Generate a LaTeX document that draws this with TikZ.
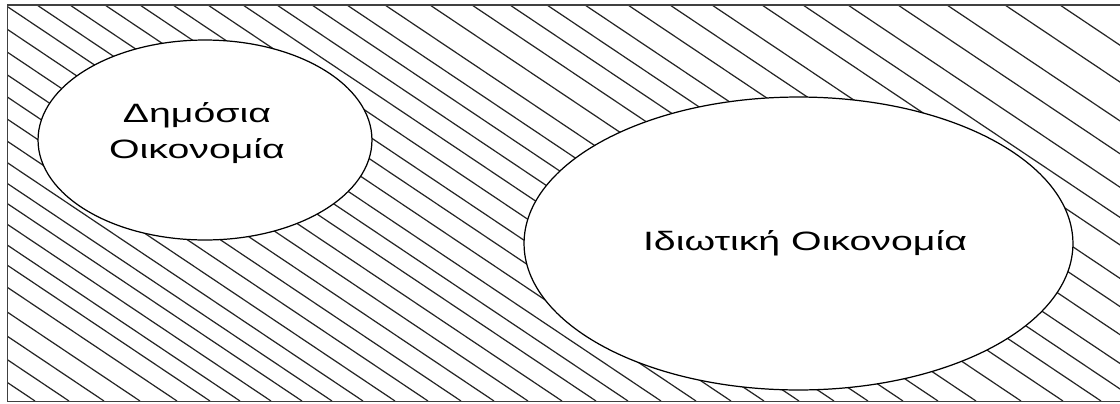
\documentclass[tikz,border=0pt]{standalone}
\usepackage{fontspec}
\setmainfont{Liberation Sans}
\usetikzlibrary{shapes.geometric}

\newcommand{\widetext}[1]{\scalebox{1.48}[1]{#1}}

\tikzset{
  hatchline/.style={line width=0.7pt, black!85},
  frameline/.style={line width=1.1pt, black!75},
  region/.style={ellipse, draw, line width=0.7pt, fill=white, inner sep=0pt, outer sep=0pt},
  tag/.style={font=\fontsize{15.1}{20.5}\selectfont, align=center, inner sep=0pt}
}

\begin{document}
\begin{tikzpicture}[x=0.02cm, y=-0.02cm]
    \useasboundingbox (0,0) rectangle (1120,403);
    \clip (0,0) rectangle (1120,403);

    % Hatched background
    \begin{scope}
        \clip (7.5,5) rectangle (1130,401.5);
        \foreach \t in {-556,-522,-487,-451,-414,-381,-351,-320,-289,-259,-228,-196,
                        -163,-130,-97,-63,-29,5,37,70,105,140,173,208,243,277,312,347,
                        385,430,472,510,547,585,628,670,712,762,803,848,898,947,1005,1060}
            \draw[hatchline] (\t,5) -- ++(591,396);
    \end{scope}
    \draw[frameline] (1130,5) -- (7.5,5) -- (7.5,401.5) -- (1130,401.5);

    % Public and private economy
    \node[region, minimum width=6.68cm, minimum height=4cm] (public) at (205,140) {};
    \node[region, minimum width=10.98cm, minimum height=5.86cm] (private) at (798.5,243.5) {};

    \node[tag] (publictext) at (197,133) {\widetext{Δημόσια}\\\widetext{Οικονομία}};
    \node[tag, anchor=base] (privatetext) at (805,250) {\widetext{Ιδιωτική Οικονομία}};
\end{tikzpicture}
\end{document}
